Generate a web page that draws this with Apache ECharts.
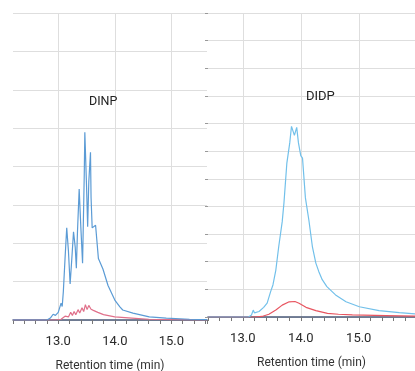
<!DOCTYPE html>
<html>
<head>
<meta charset="utf-8">
<script src="https://cdn.jsdelivr.net/npm/echarts@6/dist/echarts.min.js"></script>
<style>
  html, body { margin: 0; padding: 0; background: #fff; }
  #main { width: 415px; height: 371px; }
</style>
</head>
<body>
<div id="main"></div>
<script>
// DINP (left panel)
const dinpBlueTime = [12.2, 12.6, 12.8, 12.86, 12.91, 12.95, 13.0, 13.05, 13.07, 13.09, 13.12, 13.15, 13.18, 13.21, 13.24, 13.27, 13.3, 13.32, 13.34, 13.37, 13.4, 13.43, 13.46, 13.47, 13.5, 13.52, 13.54, 13.57, 13.58, 13.6, 13.63, 13.66, 13.71, 13.79, 13.88, 14.0, 14.09, 14.14, 14.32, 14.61, 14.91, 15.32, 15.63];
const dinpBlue = [0, 0, 0, 0.05, 0.15, 0.12, 0.2, 0.44, 0.35, 0.74, 1.6, 2.4, 1.8, 0.94, 1.6, 2.3, 1.9, 1.35, 2.3, 3.41, 2.4, 1.48, 3.8, 4.89, 3.5, 2.43, 3.6, 4.37, 3.2, 2.4, 2.4, 2.47, 1.6, 1.33, 0.9, 0.52, 0.34, 0.26, 0.18, 0.08, 0.05, 0.02, 0.01];
const dinpRedTime = [12.2, 12.95, 13.05, 13.12, 13.15, 13.18, 13.22, 13.25, 13.28, 13.31, 13.35, 13.38, 13.42, 13.45, 13.48, 13.51, 13.54, 13.58, 13.62, 13.7, 13.8, 14.0, 14.3, 14.6, 15.0, 15.63];
const dinpRed = [0, 0, 0.02, 0.1, 0.15, 0.08, 0.2, 0.12, 0.22, 0.14, 0.27, 0.18, 0.32, 0.22, 0.4, 0.27, 0.38, 0.28, 0.25, 0.2, 0.14, 0.08, 0.05, 0.02, 0.01, 0];

// DIDP (right panel)
const didpBlueTime = [12.4, 13.1, 13.15, 13.18, 13.2, 13.28, 13.36, 13.42, 13.48, 13.52, 13.57, 13.62, 13.68, 13.71, 13.76, 13.78, 13.81, 13.84, 13.89, 13.93, 13.96, 14.0, 14.03, 14.08, 14.14, 14.2, 14.26, 14.31, 14.37, 14.45, 14.6, 14.78, 15.01, 15.35, 15.7, 15.97];
const didpBlue = [0, 0, 0.07, 0.25, 0.15, 0.2, 0.35, 0.5, 0.92, 1.16, 1.7, 2.55, 3.45, 4.13, 5.57, 5.63, 6.3, 6.9, 6.57, 6.86, 6.3, 5.84, 5.75, 4.31, 3.5, 2.55, 1.95, 1.65, 1.35, 1.1, 0.8, 0.55, 0.37, 0.23, 0.16, 0.11];
const didpRedTime = [12.4, 13.2, 13.33, 13.45, 13.57, 13.68, 13.8, 13.9, 13.97, 14.09, 14.26, 14.46, 14.65, 14.89, 15.47, 15.97];
const didpRed = [0, 0, 0.02, 0.1, 0.25, 0.43, 0.55, 0.56, 0.5, 0.35, 0.23, 0.13, 0.1, 0.08, 0.05, 0.03];

const titles = ["DINP", "DIDP"];
const axisName = "Retention time (min)";

const pairs = (t, v) => t.map((x, i) => [x, v[i]]);
const font = "Roboto, sans-serif";

function xAxisFor(gridIndex, min, max, colors) {
  return {
    type: "value",
    gridIndex: gridIndex,
    min: min,
    max: max,
    interval: 0.2,
    name: axisName,
    nameLocation: "middle",
    nameGap: 40,
    nameTextStyle: { color: "#333", fontSize: 12, fontFamily: font },
    axisLine: { show: true, lineStyle: { color: "#4a5a78", width: 1.5 } },
    axisTick: { show: true, length: 4, lineStyle: { color: "#777" } },
    axisLabel: {
      color: "#2a2a2a",
      fontSize: 13,
      fontFamily: font,
      margin: 15,
      formatter: function (v) {
        return Math.abs(v - Math.round(v)) < 1e-6 ? Math.round(v).toFixed(1) : "";
      },
    },
    splitLine: { show: true, lineStyle: { color: colors, width: 1 } },
  };
}

const gl = "#dedede";
const t = "rgba(0,0,0,0)";

const option = {
  animation: false,
  backgroundColor: "#fff",
  title: [
    { text: titles[0], left: 84, top: 90, textStyle: { fontSize: 12.5, fontWeight: "normal", color: "#222", fontFamily: font } },
    { text: titles[1], left: 301, top: 85, textStyle: { fontSize: 13, fontWeight: "normal", color: "#222", fontFamily: font } },
  ],
  grid: [
    { left: 13, top: 13, width: 194, height: 307, outerBoundsMode: "none", containLabel: false },
    { left: 208, top: 13, width: 207, height: 304, outerBoundsMode: "none", containLabel: false },
  ],
  xAxis: [
    xAxisFor(0, 12.2, 15.63, [t, t, t, t, gl]),
    xAxisFor(1, 12.4, 15.97, [t, t, t, gl, t]),
  ],
  yAxis: [
    {
      type: "value", gridIndex: 0, min: 0, max: 8, interval: 1,
      axisLine: { show: false }, axisTick: { show: false }, axisLabel: { show: false },
      splitLine: { show: true, lineStyle: { color: gl, width: 1.2 } },
    },
    {
      type: "value", gridIndex: 1, min: 0, max: 11, interval: 1,
      axisLine: { show: false },
      axisTick: { show: true, length: 3, lineStyle: { color: "#999" } },
      axisLabel: { show: false },
      splitLine: { show: true, lineStyle: { color: gl, width: 1.2 } },
    },
  ],
  series: [
    {
      type: "line", xAxisIndex: 0, yAxisIndex: 0, showSymbol: false,
      lineStyle: { color: "#e0708a", width: 1.2 }, data: pairs(dinpRedTime, dinpRed),
    },
    {
      type: "line", xAxisIndex: 0, yAxisIndex: 0, showSymbol: false,
      lineStyle: { color: "#5b9bd5", width: 1.2 }, data: pairs(dinpBlueTime, dinpBlue),
    },
    {
      type: "line", xAxisIndex: 1, yAxisIndex: 1, showSymbol: false,
      lineStyle: { color: "#e85560", width: 1.2 }, data: pairs(didpRedTime, didpRed),
    },
    {
      type: "line", xAxisIndex: 1, yAxisIndex: 1, showSymbol: false,
      lineStyle: { color: "#72c0ea", width: 1.2 }, data: pairs(didpBlueTime, didpBlue),
    },
  ],
};

const chart = echarts.init(document.getElementById("main"));
chart.setOption(option);
</script>
</body>
</html>
